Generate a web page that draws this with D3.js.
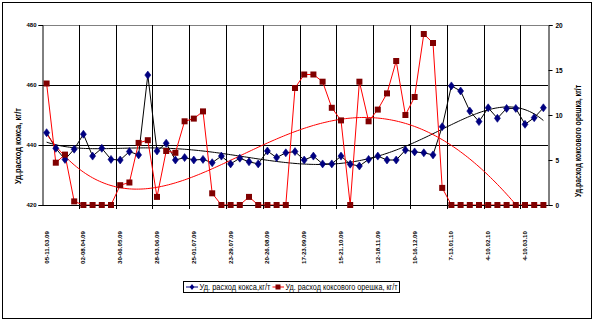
<!DOCTYPE html>
<html>
<head>
<meta charset="utf-8">
<script src="https://cdn.jsdelivr.net/npm/d3@7/dist/d3.min.js"></script>
<style>
  html, body { margin: 0; padding: 0; background: #fff; }
  svg { display: block; }
  text { font-family: "Liberation Sans", Arial, sans-serif; }
</style>
</head>
<body>
<svg id="chart" width="595" height="324"></svg>
<script>
// Weekly specific consumption, March 2009 – March 2010
const cokeRate = [
  444.1, 438.9, 435.2, 438.6, 443.6, 436.3, 438.9, 435.2, 435.0, 437.8, 436.7, 463.3, 438.0, 440.6,
  435.0, 435.8, 435.0, 435.2, 434.1, 436.3, 433.7, 435.6, 434.4, 433.7, 438.0, 435.8, 437.4, 437.8,
  435.0, 436.3, 433.7, 433.7, 436.3, 433.6, 433.0, 435.2, 436.3, 435.0, 435.0, 438.3, 437.7,
  437.4, 436.7, 446.1, 459.7, 458.0, 451.3, 447.8, 452.4, 448.9, 452.2, 452.2, 446.9, 449.1, 452.4
];
const nutCokeRate = [
  13.5, 4.7, 5.6, 0.4, 0, 0, 0, 0, 2.2, 2.5, 6.9, 7.2, 0.9, 6.0,
  5.8, 9.3, 9.6, 10.4, 1.3, 0, 0, 0, 0.9, 0, 0, 0, 0, 13.0,
  14.5, 14.5, 13.7, 10.8, 9.4, 0, 13.7, 9.3, 10.6, 12.4, 16.0, 10.0, 12.0,
  19.0, 18.0, 1.9, 0, 0, 0, 0, 0, 0, 0, 0, 0, 0, 0
];
// Labelled weeks (every fourth week)
const weekLabels = [
  "05-11.03.09", "02-08.04.09", "30-06.05.09", "28-03.06.09", "25-01.07.09",
  "23-29.07.09", "20-26.08.09", "17-23.09.09", "15-21.10.09", "12-18.11.09",
  "10-16.12.09", "7-13.01.10", "4-10.02.10", "4-10.03.10"
];
const labelStep = 4;
const leftTicks = [420, 440, 460, 480];
const rightTicks = [0, 5, 10, 15, 20];
const seriesNames = ["Уд. расход кокса,кг/т", "Уд. расход коксового орешка, кг/т"];
const leftTitle = "Уд.расход кокса, кг/т";
const rightTitle = "Уд.расход коксового орешка, кг/т";

const svg = d3.select("#chart");
const plot = { left: 42, right: 548, top: 25, bottom: 205 };
const n = cokeRate.length;

const x = d3.scaleBand().domain(d3.range(n)).range([plot.left, plot.right]).paddingInner(0).paddingOuter(0);
const cx = i => x(i) + x.bandwidth() / 2;
const yL = d3.scaleLinear().domain([420, 480]).range([plot.bottom, plot.top]);
const yR = d3.scaleLinear().domain([0, 20]).range([plot.bottom, plot.top]);

// Least-squares polynomial trend
function polyFit(ys, order) {
  const m = ys.length;
  const mid = (m + 1) / 2, half = (m - 1) / 2;
  const t = d3.range(m).map(i => ((i + 1) - mid) / half);
  const k = order + 1;
  const A = Array.from({ length: k }, () => new Array(k + 1).fill(0));
  for (let r = 0; r < k; r++) {
    for (let c = 0; c < k; c++) A[r][c] = d3.sum(t, v => Math.pow(v, r + c));
    A[r][k] = d3.sum(t, (v, i) => ys[i] * Math.pow(v, r));
  }
  for (let p = 0; p < k; p++) {
    let best = p;
    for (let r = p + 1; r < k; r++) if (Math.abs(A[r][p]) > Math.abs(A[best][p])) best = r;
    [A[p], A[best]] = [A[best], A[p]];
    for (let r = 0; r < k; r++) {
      if (r === p) continue;
      const f = A[r][p] / A[p][p];
      for (let c = p; c <= k; c++) A[r][c] -= f * A[p][c];
    }
  }
  const coef = A.map((row, i) => row[k] / row[i]);
  return i => {
    const v = ((i + 1) - mid) / half;
    return coef.reduce((s, a, j) => s + a * Math.pow(v, j), 0);
  };
}

// Outer frame
svg.append("rect").attr("x", 2.5).attr("y", 2.5).attr("width", 589).attr("height", 316)
  .attr("fill", "#fff").attr("stroke", "#000").attr("stroke-width", 1);

svg.append("defs").append("clipPath").attr("id", "plotClip")
  .append("rect").attr("x", plot.left).attr("y", plot.top)
  .attr("width", plot.right - plot.left).attr("height", plot.bottom - plot.top);

// Top border of the plot area
svg.append("line").attr("x1", plot.left).attr("x2", plot.right)
  .attr("y1", plot.top + 0.5).attr("y2", plot.top + 0.5).attr("stroke", "#808080");

// Horizontal gridlines
svg.append("g").selectAll("line").data(leftTicks.filter(v => v > 420 && v < 480)).join("line")
  .attr("x1", plot.left).attr("x2", plot.right)
  .attr("y1", d => Math.round(yL(d)) + 0.5).attr("y2", d => Math.round(yL(d)) + 0.5)
  .attr("stroke", "#000");

// Vertical gridlines at labelled week boundaries, with ticks below the axis
const boundaries = d3.range(labelStep, n, labelStep);
svg.append("g").selectAll("line").data(boundaries).join("line")
  .attr("x1", d => Math.round(x(d)) + 0.5).attr("x2", d => Math.round(x(d)) + 0.5)
  .attr("y1", plot.top).attr("y2", plot.bottom + 4)
  .attr("stroke", "#000");

// Left axis
const gL = svg.append("g").attr("transform", `translate(${plot.left + 0.5},0)`)
  .call(d3.axisLeft(yL).tickValues(leftTicks).tickSize(4).tickFormat(d3.format("d")));
gL.select(".domain").attr("stroke", "#000");
gL.selectAll("text").attr("font-size", 6).attr("font-weight", "bold").attr("x", -6);

// Right axis
const gR = svg.append("g").attr("transform", `translate(${plot.right + 0.5},0)`)
  .call(d3.axisRight(yR).tickValues(rightTicks).tickSize(4).tickFormat(d3.format("d")));
gR.select(".domain").attr("stroke", "#000");
gR.selectAll("text").attr("font-size", 6.5).attr("font-weight", "bold").attr("x", 7);

// Bottom axis line
svg.append("line").attr("x1", plot.left).attr("x2", plot.right + 0.5)
  .attr("y1", plot.bottom + 0.5).attr("y2", plot.bottom + 0.5).attr("stroke", "#000");

// Week labels
svg.append("g").selectAll("text").data(weekLabels).join("text")
  .attr("transform", (d, k) => `translate(${cx(k * labelStep) + 2},231) rotate(-90)`)
  .attr("text-anchor", "end")
  .attr("font-size", 6.2).attr("font-weight", "bold")
  .text(d => d);

// Axis titles
svg.append("text")
  .attr("transform", `translate(21,146) rotate(-90)`)
  .attr("text-anchor", "middle").attr("font-size", 9).attr("font-weight", "bold")
  .attr("textLength", 76).attr("lengthAdjust", "spacingAndGlyphs")
  .text(leftTitle);
svg.append("text")
  .attr("transform", `translate(581,141) rotate(-90)`)
  .attr("text-anchor", "middle").attr("font-size", 9).attr("font-weight", "bold")
  .attr("textLength", 112).attr("lengthAdjust", "spacingAndGlyphs")
  .text(rightTitle);

const plotG = svg.append("g").attr("clip-path", "url(#plotClip)");
const trendXs = d3.range(0, n - 1 + 0.001, 0.25);

// Coke series
plotG.append("path").datum(cokeRate)
  .attr("d", d3.line().x((d, i) => cx(i)).y(d => yL(d)))
  .attr("fill", "none").attr("stroke", "#000").attr("stroke-width", 1);
const cokeTrend = polyFit(cokeRate, 6);
plotG.append("path").datum(trendXs)
  .attr("d", d3.line().x(i => x(0) + x.bandwidth() / 2 + i * x.step()).y(i => yL(cokeTrend(i))))
  .attr("fill", "none").attr("stroke", "#000").attr("stroke-width", 1);

// Nut coke series
plotG.append("path").datum(nutCokeRate)
  .attr("d", d3.line().x((d, i) => cx(i)).y(d => yR(d)))
  .attr("fill", "none").attr("stroke", "#ff0000").attr("stroke-width", 1);
const nutTrend = polyFit(nutCokeRate, 4);
plotG.append("path").datum(trendXs)
  .attr("d", d3.line().x(i => x(0) + x.bandwidth() / 2 + i * x.step()).y(i => yR(nutTrend(i))))
  .attr("fill", "none").attr("stroke", "#ff0000").attr("stroke-width", 1);

// Markers
const diamond = "M0,-4L3,0L0,4L-3,0Z";
svg.append("g").selectAll("path").data(cokeRate).join("path")
  .attr("transform", (d, i) => `translate(${cx(i)},${yL(d)})`)
  .attr("d", diamond).attr("fill", "#000080").attr("stroke", "#000080").attr("stroke-width", 0.6);
svg.append("g").selectAll("rect").data(nutCokeRate).join("rect")
  .attr("x", (d, i) => cx(i) - 3).attr("y", d => yR(d) - 3)
  .attr("width", 6).attr("height", 6).attr("fill", "#800000");

// Legend
const lg = svg.append("g");
lg.append("rect").attr("x", 183.5).attr("y", 281.5).attr("width", 216).attr("height", 11)
  .attr("fill", "#fff").attr("stroke", "#000");
lg.append("line").attr("x1", 186).attr("x2", 198).attr("y1", 287).attr("y2", 287).attr("stroke", "#000080");
lg.append("path").attr("transform", "translate(192,287)").attr("d", "M0,-3L2.3,0L0,3L-2.3,0Z").attr("fill", "#000080");
lg.append("text").attr("x", 199.5).attr("y", 290).attr("font-size", 8.5)
  .attr("textLength", 71).attr("lengthAdjust", "spacingAndGlyphs").text(seriesNames[0]);
lg.append("line").attr("x1", 272.5).attr("x2", 284).attr("y1", 287).attr("y2", 287).attr("stroke", "#ff0000");
lg.append("rect").attr("x", 275.5).attr("y", 284.5).attr("width", 5).attr("height", 5).attr("fill", "#800000");
lg.append("text").attr("x", 285.5).attr("y", 290).attr("font-size", 8.5)
  .attr("textLength", 112).attr("lengthAdjust", "spacingAndGlyphs").text(seriesNames[1]);
</script>
</body>
</html>
